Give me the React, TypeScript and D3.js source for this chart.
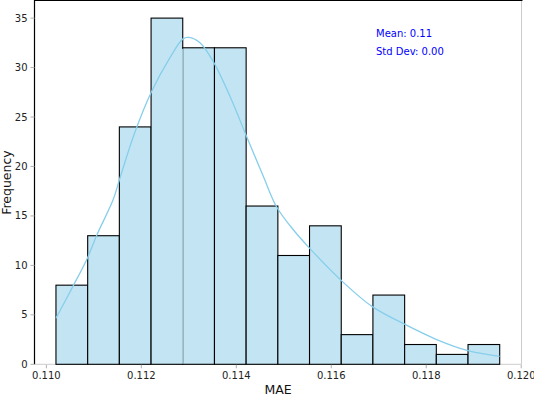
import React from 'react';
import * as d3 from 'd3';

// histogram of MAE values, 14 bins, with a kde curve on top
const binEdges = [
  0.110202, 0.11087, 0.111537, 0.112205, 0.112872, 0.11354, 0.114207, 0.114875,
  0.115542, 0.11621, 0.116877, 0.117545, 0.118212, 0.11888, 0.119547
];
const counts = [8, 13, 24, 35, 32, 32, 16, 11, 14, 3, 7, 2, 1, 2];

// kde, in counts
const kdeX = [
  0.110202, 0.110539, 0.110861, 0.111066, 0.111403, 0.111535, 0.11186, 0.112218,
  0.112603, 0.112877, 0.113003, 0.113235, 0.113515, 0.113866, 0.114219, 0.114568,
  0.11485, 0.1152, 0.115531, 0.116205, 0.116864, 0.117532, 0.118206, 0.11888, 0.119547
];
const kdeY = [
  4.65, 7.7, 10.7, 13.1, 16.6, 18.6, 23.4, 27.6,
  31.0, 32.9, 33.05, 32.5, 30.6, 27.1, 23.0, 19.0,
  15.9, 13.6, 11.8, 8.5, 5.83, 4.08, 2.53, 1.38, 0.81
];

const xTicks = [0.11, 0.112, 0.114, 0.116, 0.118, 0.12];
const yTicks = [0, 5, 10, 15, 20, 25, 30, 35];
const statLines = ['Mean: 0.11', 'Std Dev: 0.00'];

const W = 534;
const H = 396;
const plot = { left: 34.5, right: 521.5, top: 0.8, bottom: 364.3 };
const font = '"DejaVu Sans", sans-serif';

export default function App() {
  const x = d3.scaleLinear().domain([0.10975, 0.120006]).range([plot.left, plot.right]);
  const y = d3.scaleLinear().domain([0, 36.75]).range([plot.bottom, plot.top]);

  const kdeLine = d3.line<number>()
    .x((d, i) => x(kdeX[i]))
    .y(d => y(d))
    .curve(d3.curveCatmullRom.alpha(0.5));

  // in the original the fill of bar 4 sits over the edge it shares with bar 3 -> greyish line
  const greyEdge = 4;

  return (
    <svg width={W} height={H} style={{ position: 'absolute', left: 0, top: 0, background: '#fff' }}
         fontFamily={font}>
      {/* grey spines (bottom, right) */}
      <line x1={plot.left} x2={plot.right} y1={plot.bottom} y2={plot.bottom} stroke="#cccccc" strokeWidth={1} />
      <line x1={plot.right} x2={plot.right} y1={plot.top} y2={plot.bottom} stroke="#cccccc" strokeWidth={1} />

      <g>
        {counts.map((c, i) => (
          <rect
            key={i}
            x={x(binEdges[i])}
            y={y(c)}
            width={x(binEdges[i + 1]) - x(binEdges[i])}
            height={y(0) - y(c)}
            fill="#c3e5f3"
            stroke="#000"
            strokeWidth={1.1}
          />
        ))}
        <line
          x1={x(binEdges[greyEdge])}
          x2={x(binEdges[greyEdge])}
          y1={y(Math.min(counts[greyEdge - 1], counts[greyEdge])) + 1}
          y2={y(0) - 0.5}
          stroke="#a8c6d2"
          strokeWidth={1.6}
        />
      </g>

      <path d={kdeLine(kdeY) || ''} fill="none" stroke="#87ceeb" strokeWidth={1.3} />

      {/* black spines (left, top) */}
      <line x1={plot.left} x2={plot.left} y1={0} y2={plot.bottom} stroke="#000" strokeWidth={1.2} />
      <line x1={plot.left} x2={plot.right + 1} y1={0.5} y2={0.5} stroke="#000" strokeWidth={1.2} />

      {/* x axis */}
      <g>
        {xTicks.map(t => (
          <g key={t} transform={`translate(${x(t)},0)`}>
            <line y1={plot.bottom + 0.5} y2={plot.bottom + 4} stroke="#b0b0b0" />
            <text y={379} textAnchor="middle" fontSize={10} fill="#222">{d3.format('.3f')(t)}</text>
          </g>
        ))}
        <text x={(plot.left + plot.right) / 2} y={394} textAnchor="middle" fontSize={12.5} fill="#111">MAE</text>
      </g>

      {/* y axis */}
      <g>
        {yTicks.map(t => (
          <g key={t} transform={`translate(0,${y(t)})`}>
            <line x1={plot.left - 4} x2={plot.left} stroke="#b0b0b0" />
            <text x={27.5} dy="0.35em" textAnchor="end" fontSize={10} fill="#222">{t}</text>
          </g>
        ))}
        <text transform={`translate(11,${(plot.top + plot.bottom) / 2}) rotate(-90)`} textAnchor="middle"
              fontSize={12.5} fill="#111">Frequency</text>
      </g>

      {statLines.map((s, i) => (
        <text key={s} x={376} y={37 + i * 18} fontSize={10} fill="#0000ff">{s}</text>
      ))}
    </svg>
  );
}
